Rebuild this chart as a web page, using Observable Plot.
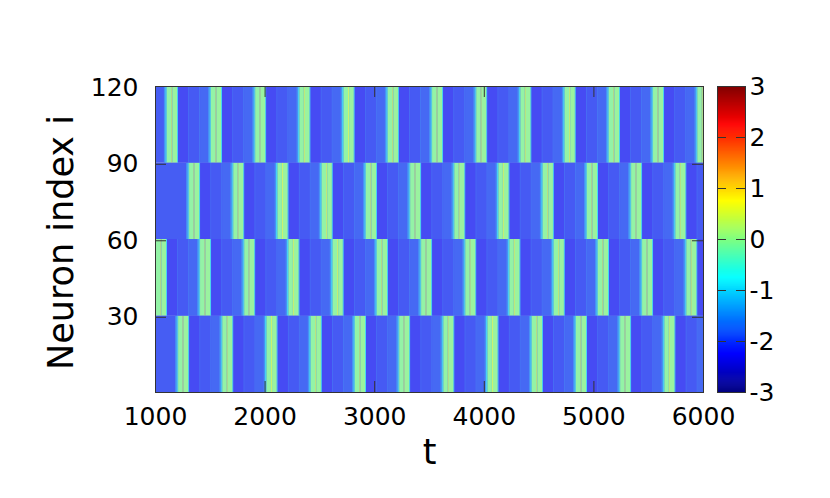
<!DOCTYPE html>
<html>
<head>
<meta charset="utf-8">
<script src="https://cdn.jsdelivr.net/npm/d3@7"></script>
<script src="https://cdn.jsdelivr.net/npm/@observablehq/plot@0.6"></script>
<style>
  html, body { margin: 0; padding: 0; background: #fff; }
  #wrap { position: relative; width: 830px; height: 498px; overflow: hidden; }
  #wrap > svg, #wrap > figure { position: absolute; top: 0; margin: 0; }
  .heat { opacity: 0.68; }
</style>
</head>
<body>
<div id="wrap"></div>
<script>
// ---- data ----
const tRange = [1000, 6000];
const groupLo = [0.5, 30.5, 60.5, 90.5];
const groupHi = [30.5, 60.5, 90.5, 120.5];
// spike onset times (t) for each group of 30 neurons
const onsetsG1 = [1206, 1609, 2013, 2416, 2819, 3223, 3626, 4029, 4433, 4836, 5239, 5643];
const onsetsG2 = [1003, 1406, 1809, 2213, 2616, 3019, 3423, 3826, 4229, 4633, 5036, 5439, 5843];
const onsetsG3 = [1306, 1709, 2113, 2516, 2919, 3323, 3726, 4129, 4533, 4936, 5339, 5743];
const onsetsG4 = [1103, 1506, 1909, 2313, 2716, 3119, 3523, 3926, 4329, 4733, 5136, 5539, 5943];
// value profile around each spike (phase relative to onset, in t units)
const profileStart = [-22, -9, 0, 5, 45, 55, 98, 106, 200, 208, 300, 308];
const profileValue = [-1.6, -1.0, -0.5, -0.08, 0.4, -0.02, -0.8, -2.2, -1.9, -2.08, -1.8, -1.95];
const profileEnd = 381;
const baseValue = -2.05;
const xTicks = [1000, 2000, 3000, 4000, 5000, 6000];
const xInner = [2000, 3000, 4000, 5000];
const yTicks = [30, 60, 90, 120];
const yInner = [30, 60, 90];
const cbTicks = [-3, -2, -1, 0, 1, 2, 3];
const cbInner = [-2, -1, 0, 1, 2];

// ---- jet colormap ----
const clamp = v => Math.max(0, Math.min(1, v));
const jet = t => {
  const r = clamp(1.5 - Math.abs(4 * t - 3));
  const g = clamp(1.5 - Math.abs(4 * t - 2));
  const b = clamp(1.5 - Math.abs(4 * t - 1));
  return `rgb(${Math.round(r * 255)},${Math.round(g * 255)},${Math.round(b * 255)})`;
};
const colorScale = {type: "linear", domain: [-3, 3], interpolate: jet};

// ---- build the heatmap segments ----
const allOnsets = [onsetsG1, onsetsG2, onsetsG3, onsetsG4];
const segs = [];
allOnsets.forEach((ons, gi) => {
  segs.push({x1: tRange[0], x2: tRange[1], y1: groupLo[gi], y2: groupHi[gi], v: baseValue});
  ons.forEach(o => {
    profileStart.forEach((ps, k) => {
      const pe = k + 1 < profileStart.length ? profileStart[k + 1] : profileEnd;
      const a = Math.max(tRange[0], o + ps), b = Math.min(tRange[1], o + pe);
      if (b > a) segs.push({x1: a, x2: b, y1: groupLo[gi], y2: groupHi[gi], v: profileValue[k]});
    });
  });
});

const font = "DejaVu Sans, sans-serif";

const main = Plot.plot({
  width: 830, height: 498,
  marginLeft: 155, marginRight: 127, marginTop: 86, marginBottom: 106,
  x: {domain: tRange},
  y: {domain: [0.5, 120.5]},
  color: colorScale,
  style: {fontFamily: font, fontSize: "25px", color: "#000", background: "transparent", overflow: "visible"},
  marks: [
    Plot.frame({fill: "#dcdcdc"}),
    Plot.rect(segs, {x1: "x1", x2: "x2", y1: "y1", y2: "y2", fill: "v", className: "heat"}),
    Plot.tickX(xInner, {x: d => d, insetTop: 295, stroke: "#333"}),
    Plot.tickX(xInner, {x: d => d, insetBottom: 295, stroke: "#333"}),
    Plot.tickY(yInner, {y: d => d, insetRight: 537, stroke: "#333"}),
    Plot.tickY(yInner, {y: d => d, insetLeft: 537, stroke: "#333"}),
    Plot.axisX({ticks: xTicks, tickSize: 0, tickPadding: 15, label: null, tickFormat: d => String(d)}),
    Plot.axisY({ticks: yTicks, tickSize: 0, tickPadding: 17, label: null, tickFormat: d => String(d)}),
    Plot.text(["t"], {text: d => d, frameAnchor: "bottom", dy: 71, fontSize: 35}),
    Plot.text(["Neuron index i"], {text: d => d, frameAnchor: "left", textAnchor: "middle", lineAnchor: "middle", dx: -93.5, dy: 3, rotate: -90, fontSize: 35}),
    Plot.frame({stroke: "#333"})
  ]
});
main.style.left = "0px";

const step = 0.02;
const cbVals = d3.range(-3, 3, step);
const cbar = Plot.plot({
  width: 113, height: 498,
  marginLeft: 0, marginRight: 85, marginTop: 86, marginBottom: 106,
  x: {domain: [0, 1], axis: null},
  y: {domain: [-3, 3]},
  color: colorScale,
  style: {fontFamily: font, fontSize: "25px", color: "#000", background: "transparent", overflow: "visible"},
  marks: [
    Plot.rect(cbVals, {x1: 0, x2: 1, y1: d => d, y2: d => Math.min(3, d + step * 1.6), fill: d => d + step / 2}),
    Plot.tickY(cbInner, {y: d => d, insetRight: 19, stroke: "#333"}),
    Plot.tickY(cbInner, {y: d => d, insetLeft: 19, stroke: "#333"}),
    Plot.axisY({anchor: "right", ticks: cbTicks, tickSize: 0, tickPadding: 4, label: null, tickFormat: d => String(d)}),
    Plot.frame({stroke: "#333"})
  ]
});
cbar.style.left = "717px";

const wrap = document.getElementById("wrap");
wrap.appendChild(main);
wrap.appendChild(cbar);
</script>
</body>
</html>
